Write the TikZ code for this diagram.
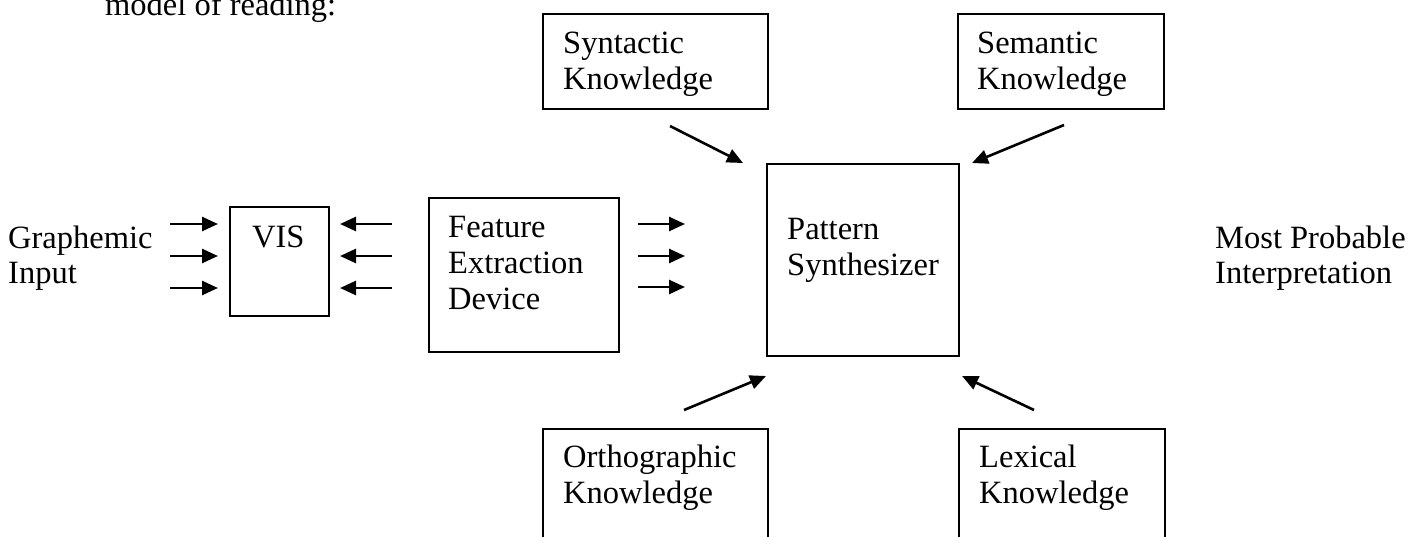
\documentclass[tikz,border=0pt]{standalone}
\usepackage{fontspec}
\setmainfont{Liberation Serif}
\usetikzlibrary{arrows.meta}
\begin{document}
\begin{tikzpicture}[x=1pt,y=-1pt,
  box/.style={draw, line width=2pt, inner sep=0pt, anchor=north west},
  txt/.style={anchor=base west, inner sep=0pt, font=\fontsize{32.5}{36}\selectfont},
  arr/.style={line width=2.6pt, -{Triangle[length=16pt,width=14pt]}}]
\useasboundingbox (0,0) rectangle (1421,536);
% boxes
\node[box, minimum width=225pt, minimum height=95pt] (syn) at (542,13) {};
\node[box, minimum width=206pt, minimum height=95pt] (sem) at (957,13) {};
\node[box, minimum width=192pt, minimum height=192pt] (pat) at (766,163) {};
\node[box, minimum width=99pt, minimum height=109pt] (vis) at (229,206) {};
\node[box, minimum width=190pt, minimum height=154pt] (fea) at (428,197) {};
\node[box, minimum width=225pt, minimum height=140pt] (ort) at (542,428) {};
\node[box, minimum width=206pt, minimum height=140pt] (lex) at (958,428) {};
% texts
\node[txt] (t0) at (105,15) {model of reading:};
\node[txt] (g1) at (8,248) {Graphemic};
\node[txt] (g2) at (8,283) {Input};
\node[txt] (v1) at (252,247) {VIS};
\node[txt] (f1) at (448,237) {Feature};
\node[txt] (f2) at (448,273) {Extraction};
\node[txt] (f3) at (448,309) {Device};
\node[txt] (s1) at (563,53) {Syntactic};
\node[txt] (s2) at (563,89) {Knowledge};
\node[txt] (m1) at (977,53) {Semantic};
\node[txt] (m2) at (977,89) {Knowledge};
\node[txt] (p1) at (787,239) {Pattern};
\node[txt] (p2) at (787,275) {Synthesizer};
\node[txt] (o1) at (563,467) {Orthographic};
\node[txt] (o2) at (563,503) {Knowledge};
\node[txt] (l1) at (979,467) {Lexical};
\node[txt] (l2) at (979,503) {Knowledge};
\node[txt] (r1) at (1215,248) {Most Probable};
\node[txt] (r2) at (1215,283) {Interpretation};
% arrows
\foreach \y in {224,256,288} {
  \draw[arr] (170,\y) -- (218,\y);
  \draw[arr] (392,\y) -- (340,\y);
}
\foreach \y in {224,256,287} {
  \draw[arr] (638,\y) -- (685,\y);
}
\draw[arr] (670,126) -- (743,163);
\draw[arr] (1064,125) -- (972,163);
\draw[arr] (684,410) -- (766,376);
\draw[arr] (1034,410) -- (962,376);
\end{tikzpicture}
\end{document}
